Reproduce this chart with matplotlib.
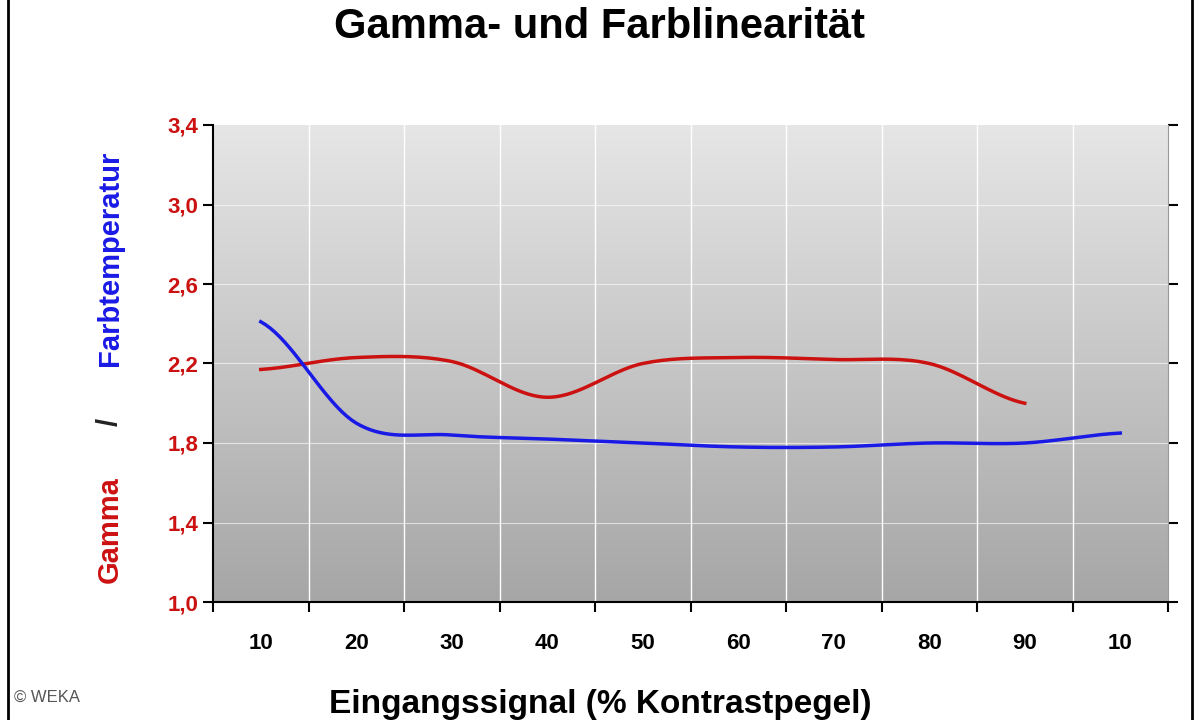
import numpy as np
import matplotlib
matplotlib.use("Agg")
import matplotlib.pyplot as plt
from matplotlib.patches import Rectangle

plt.rcParams['font.family'] = ['Liberation Sans', 'DejaVu Sans']

categories = ["10", "20", "30", "40", "50", "60", "70", "80", "90", "10"]
gamma = [2.17, 2.23, 2.21, 2.03, 2.20, 2.23, 2.22, 2.20, 2.00]
farbtemp = [2.41, 1.90, 1.84, 1.82, 1.80, 1.78, 1.78, 1.80, 1.80, 1.85]
yticks = [1.0, 1.4, 1.8, 2.2, 2.6, 3.0, 3.4]
ytick_labels = ["1,0", "1,4", "1,8", "2,2", "2,6", "3,0", "3,4"]

def smooth(y, n=20):
    # Catmull-Rom curve through the given points (render only)
    x = np.arange(len(y), dtype=float)
    P = np.array(y, dtype=float)
    xs, ys = [], []
    for i in range(len(P) - 1):
        p0 = P[i - 1] if i > 0 else P[i]
        p1, p2 = P[i], P[i + 1]
        p3 = P[i + 2] if i + 2 < len(P) else P[i + 1]
        t = np.linspace(0, 1, n, endpoint=False)
        yy = 0.5 * ((2 * p1) + (-p0 + p2) * t + (2 * p0 - 5 * p1 + 4 * p2 - p3) * t**2
                    + (-p0 + 3 * p1 - 3 * p2 + p3) * t**3)
        xs.append(x[i] + t)
        ys.append(yy)
    xs.append([x[-1]]); ys.append([P[-1]])
    return np.concatenate(xs), np.concatenate(ys)

fig = plt.figure(figsize=(12, 7.2), dpi=100)
fig.patch.set_facecolor("white")
fig.add_artist(Rectangle((0.007, -0.01), 0.986, 1.02, transform=fig.transFigure,
                         fill=False, edgecolor="black", lw=2))
ax = fig.add_axes([213/1200, 1 - 602/720, (1168-213)/1200, (602-125)/720])
ax.set_xlim(-0.5, len(categories) - 0.5)
ax.set_ylim(1.0, 3.4)

grad = np.linspace(0, 1, 256).reshape(-1, 1)
ax.imshow(grad, extent=[-0.5, len(categories) - 0.5, 1.0, 3.4], aspect="auto",
          cmap=matplotlib.colors.LinearSegmentedColormap.from_list("g", ["#a6a6a6", "#e6e6e6"]),
          origin="lower", zorder=0)
for e in np.arange(0.5, len(categories) - 0.5):
    ax.axvline(e, color="white", lw=1, zorder=1)
for yv in yticks[1:-1]:
    ax.axhline(yv, color="white", lw=0.8, alpha=0.6, zorder=1)

xs, ys = smooth(gamma)
ax.plot(xs, ys, color="#cc1111", lw=2.5, zorder=3)
xs, ys = smooth(farbtemp)
ax.plot(xs, ys, color="#1a1ae6", lw=2.5, zorder=3)

ax.set_yticks(yticks)
ax.set_yticklabels(ytick_labels, color="#cc1111", fontsize=16, fontweight="bold")
ax.set_xticks(range(len(categories)))
ax.set_xticklabels(categories, fontsize=16, fontweight="bold")
ax.tick_params(axis="x", length=0, pad=22)
ax.set_xticks(np.arange(-0.5, len(categories)), minor=True)
ax.tick_params(axis="x", which="minor", length=7, width=1.5)
ax.tick_params(axis="y", length=7, width=1.5, right=True)
ax.spines["top"].set_visible(False)
ax.spines["right"].set_color("#999999")
ax.spines["left"].set_linewidth(1.5)
ax.spines["bottom"].set_linewidth(1.5)

fig.text(0.5, 0.962, "Gamma- und Farblinearität", ha="center", va="center",
         fontsize=30, fontweight="bold")
fig.text(0.5, 0.022, "Eingangssignal (% Kontrastpegel)", ha="center", va="center",
         fontsize=24, fontweight="bold")
fig.text(110/1200, 1 - 530/720, "Gamma", color="#cc1111", rotation=90, ha="center",
         va="center", fontsize=21, fontweight="bold")
fig.text(110/1200, 1 - 422/720, "/", color="#222222", rotation=90, ha="center",
         va="center", fontsize=21, fontweight="bold")
fig.text(110/1200, 1 - 258/720, "Farbtemperatur", color="#1a1ae6", rotation=90, ha="center",
         va="center", fontsize=21, fontweight="bold")
fig.text(14/1200, 1 - 697/720, "© WEKA", fontsize=12, color="#555555", va="center")

fig.savefig("out.png", dpi=100)
